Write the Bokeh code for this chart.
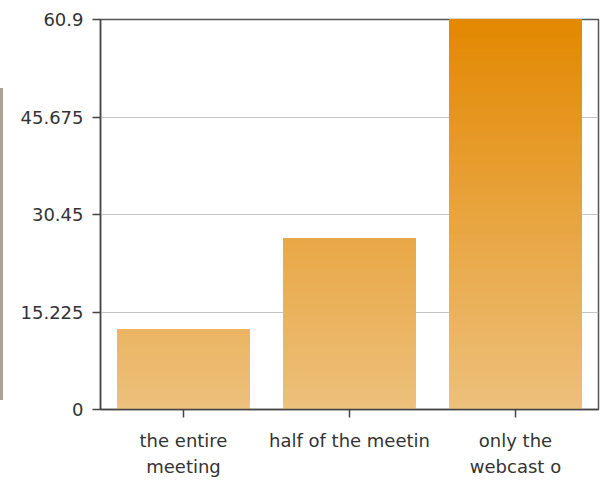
from bokeh.plotting import figure
from bokeh.models import FixedTicker, LinearAxis, Div
from bokeh.layouts import row
from bokeh.embed import file_html
from bokeh.resources import INLINE

# Survey answers and their shares
categories = ["the entire meeting", "half of the meetin", "only the webcast o"]
values = [12.5, 26.7, 60.9]
category_labels = ["the entire\nmeeting", "half of the meetin", "only the\nwebcast o"]
y_ticks = [0, 15.225, 30.45, 45.675, 60.9]
y_tick_labels = ["0", "15.225", "30.45", "45.675", "60.9"]

y_max = y_ticks[-1]
top_rgb = (0xE3, 0x88, 0x00)
bottom_rgb = (0xED, 0xC0, 0x7C)
steps = 80
font = "DejaVu Sans"
font_size = "18px"
text_color = "#333333"


def shade(frac):
    r, g, b = (round(bo + (to - bo) * frac) for bo, to in zip(bottom_rgb, top_rgb))
    return f"#{r:02x}{g:02x}{b:02x}"


p = figure(
    x_range=(0, len(categories)),
    y_range=(0, y_max),
    width=600,
    height=491,
    frame_height=390,
    min_border_left=97,
    min_border_right=5,
    min_border_top=19,
    min_border_bottom=82,
    output_backend="svg",
    toolbar_location=None,
    background_fill_color="#ffffff",
    border_fill_color="#ffffff",
)

centers = [i + 0.5 for i in range(len(categories))]

# Vertical gradient shared by all bars: slices painted bottom-up, each one
# running to the bar's top so the next slice covers it without seams
xs, bottoms, tops, colors = [], [], [], []
dy = y_max / steps
for cx, v in zip(centers, values):
    k = 0
    while k * dy < v:
        lo = k * dy
        hi = min((k + 1) * dy, v)
        xs.append(cx)
        bottoms.append(lo)
        tops.append(v)
        colors.append(shade(((lo + hi) / 2) / y_max))
        k += 1

p.vbar(x=xs, bottom=bottoms, top=tops, width=0.8, fill_color=colors,
       line_color=None)

p.outline_line_color = "#555555"
p.outline_line_width = 1.5

p.xgrid.grid_line_color = None
p.ygrid.grid_line_color = "#c4c4c4"
p.ygrid.grid_line_width = 1
p.ygrid.level = "underlay"

# Category names: first line on the main axis, second line on a bare
# axis stacked right beneath it
lines = [t.split("\n") for t in category_labels]
first = {c: l[0] for c, l in zip(centers, lines)}
second = {c: (l[1] if len(l) > 1 else "") for c, l in zip(centers, lines)}

p.yaxis.ticker = FixedTicker(ticks=y_ticks)
p.yaxis.major_label_overrides = dict(zip(y_ticks, y_tick_labels))
p.xaxis.ticker = FixedTicker(ticks=centers)
p.xaxis.major_label_overrides = first

for ax in (p.xaxis, p.yaxis):
    ax.axis_line_color = "#444444"
    ax.axis_line_width = 1.5
    ax.major_tick_line_color = "#444444"
    ax.major_tick_line_width = 1.5
    ax.major_tick_out = 8
    ax.major_tick_in = 0
    ax.minor_tick_line_color = None
    ax.major_label_text_font = font
    ax.major_label_text_font_size = font_size
    ax.major_label_text_color = text_color

p.yaxis.major_label_standoff = 9
p.xaxis.major_label_standoff = 12

under = LinearAxis(
    ticker=FixedTicker(ticks=centers),
    major_label_overrides=second,
    axis_line_color=None,
    major_tick_line_color=None,
    minor_tick_line_color=None,
    major_tick_out=0,
    major_tick_in=0,
    major_label_standoff=2,
    major_label_text_font=font,
    major_label_text_font_size=font_size,
    major_label_text_color=text_color,
)
p.add_layout(under, "below")

# Thin side rule at the left edge of the page
side = Div(
    text='<div style="width:3px;height:312px;margin-top:88px;'
         'background:#a9a392"></div>',
    width=3, height=491,
    styles={"margin": "0", "padding": "0"},
)

layout = row(side, p, spacing=0)
open("out.html", "w").write(file_html(layout, INLINE))
